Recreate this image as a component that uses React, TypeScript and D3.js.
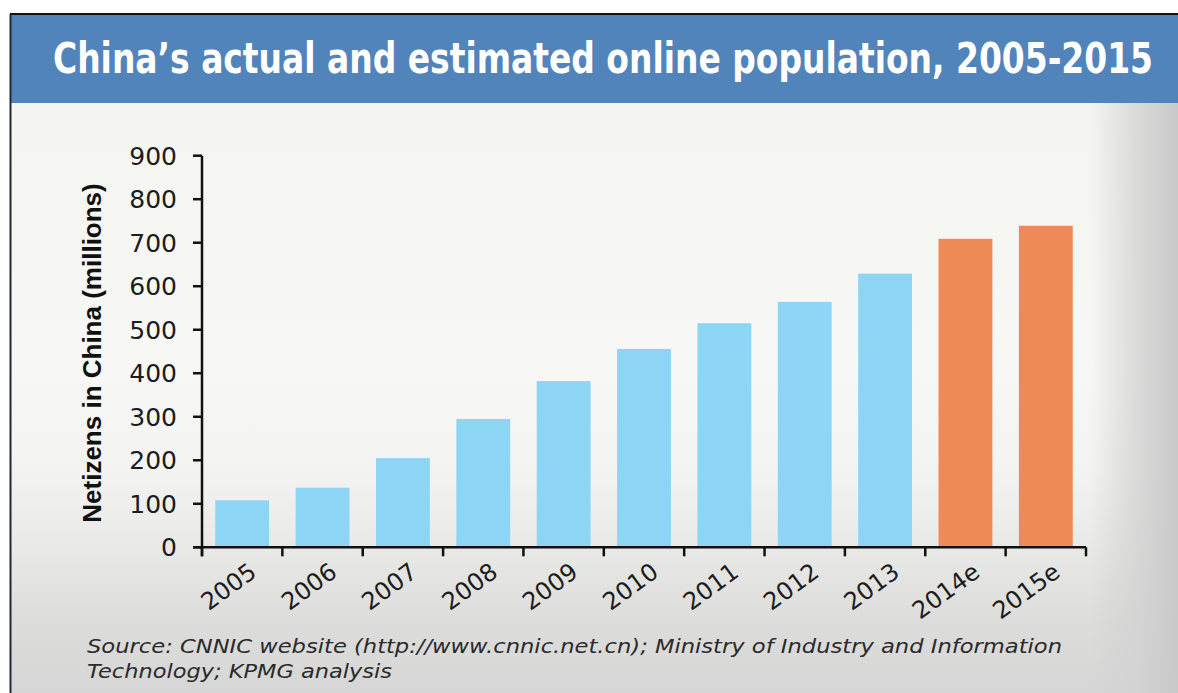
import React from 'react';
import * as d3 from 'd3';

// chart values
const years = ['2005', '2006', '2007', '2008', '2009', '2010', '2011', '2012', '2013', '2014e', '2015e'];
const netizens = [108, 137, 205, 295, 382, 456, 515, 564, 629, 709, 739];
const estimated = [false, false, false, false, false, false, false, false, false, true, true];
const yTicks = [0, 100, 200, 300, 400, 500, 600, 700, 800, 900];

const title = 'China\u2019s actual and estimated online population, 2005-2015';
const yLabel = 'Netizens in China (millions)';
const sourceLines = [
  'Source: CNNIC website (http://www.cnnic.net.cn); Ministry of Industry and Information',
  'Technology; KPMG analysis'
];

const settings = {
  width: 1178,
  height: 693,
  left: 202,
  right: 1086,
  top: 155.7,
  bottom: 547.3
};

const ACTUAL = '#8cd5f5';
const ESTIMATE = '#ee8a57';
const HEADER = '#5284bc';

function Axes({ xScale, yScale }: { xScale: d3.ScaleBand<string>; yScale: d3.ScaleLinear<number, number> }) {
  const { left, right, top, bottom } = settings;
  const step = xScale.step();
  const bounds = years.map(d => xScale(d) as number).concat([right]);
  return (
    <g stroke="#111" strokeWidth={2.5} fill="none">
      <line x1={left} x2={left} y1={top} y2={bottom + 9} />
      <line x1={left - 9} x2={right} y1={bottom} y2={bottom} />
      {yTicks.map(t => (
        <g key={t}>
          <line x1={left - 9} x2={left} y1={yScale(t)} y2={yScale(t)} />
          <text
            x={177}
            y={yScale(t)}
            dy="0.36em"
            textAnchor="end"
            stroke="none"
            fill="#1c1c1c"
            fontFamily="'DejaVu Sans', sans-serif"
            fontSize={25}
          >
            {t}
          </text>
        </g>
      ))}
      {bounds.map((b, i) => (
        <line key={i} x1={b} x2={b} y1={bottom} y2={bottom + 9} />
      ))}
      {years.map(d => {
        const cx = (xScale(d) as number) + step / 2 + 16;
        return (
          <text
            key={d}
            transform={`translate(${cx},${bottom + 28}) rotate(-36)`}
            textAnchor="end"
            stroke="none"
            fill="#1c1c1c"
            fontFamily="'DejaVu Sans', sans-serif"
            fontSize={24}
          >
            {d}
          </text>
        );
      })}
    </g>
  );
}

function Bars({ xScale, yScale }: { xScale: d3.ScaleBand<string>; yScale: d3.ScaleLinear<number, number> }) {
  const barW = xScale.step() * 0.67;
  return (
    <g>
      {years.map((d, i) => (
        <rect
          key={d}
          x={(xScale(d) as number) + (xScale.step() - barW) / 2}
          y={yScale(netizens[i])}
          width={barW}
          height={yScale(0) - yScale(netizens[i])}
          fill={estimated[i] ? ESTIMATE : ACTUAL}
        />
      ))}
    </g>
  );
}

export default function App() {
  const { width, height, left, right, top, bottom } = settings;

  const xScale = d3.scaleBand<string>().domain(years).range([left, right]).padding(0);
  const yScale = d3.scaleLinear().domain([0, 900]).range([bottom, top]);

  return (
    <svg
      width={width}
      height={height}
      style={{ position: 'absolute', left: 0, top: 0 }}
    >
      <defs>
        <linearGradient id="bg" x1="0" y1="0" x2="0" y2="1">
          <stop offset="0" stopColor="#f4f4f0" />
          <stop offset="0.45" stopColor="#f7f7f5" />
          <stop offset="0.62" stopColor="#f3f3f1" />
          <stop offset="0.76" stopColor="#e8e8e6" />
          <stop offset="0.88" stopColor="#dcdcdb" />
          <stop offset="1" stopColor="#d6d6d6" />
        </linearGradient>
        <linearGradient id="side" x1="0" y1="0" x2="1" y2="0">
          <stop offset="0" stopColor="#d0d0d0" stopOpacity={0} />
          <stop offset="0.55" stopColor="#d2d2d2" stopOpacity={0.8} />
          <stop offset="1" stopColor="#c8c8c8" stopOpacity={1} />
        </linearGradient>
      </defs>

      <rect width={width} height={height} fill="#fff" />

      {/* panel */}
      <rect x={11} y={103} width={width - 11} height={height - 103} fill="url(#bg)" />
      <rect x={1090} y={103} width={88} height={height - 103} fill="url(#side)" />
      <rect x={11} y={15} width={width - 11} height={88} fill={HEADER} />
      <line x1={10} x2={width} y1={14} y2={14} stroke="#111" strokeWidth={2} />
      <line x1={10.5} x2={10.5} y1={14} y2={height} stroke="#1d2a3a" strokeWidth={2} />

      <text
        transform="translate(53,73) scale(1,1.27)"
        fill="#fff"
        fontFamily="'Liberation Sans Narrow', 'DejaVu Sans Condensed', 'Roboto', sans-serif"
        fontWeight="bold"
        fontSize={34}
        textLength={1100}
        lengthAdjust="spacingAndGlyphs"
      >
        {title}
      </text>

      <text
        transform={`translate(101,353) rotate(-90)`}
        textAnchor="middle"
        fill="#111"
        fontFamily="'Liberation Sans', Arial, sans-serif"
        fontWeight="bold"
        fontSize={26}
      >
        {yLabel}
      </text>

      <Bars xScale={xScale} yScale={yScale} />
      <Axes xScale={xScale} yScale={yScale} />

      {sourceLines.map((line, i) => (
        <text
          key={i}
          x={87}
          y={653 + i * 25}
          fill="#2a2a2a"
          fontFamily="'DejaVu Sans', sans-serif"
          fontStyle="italic"
          fontSize={20}
          textLength={i === 0 ? 975 : 305}
          lengthAdjust="spacingAndGlyphs"
        >
          {line}
        </text>
      ))}
    </svg>
  );
}
